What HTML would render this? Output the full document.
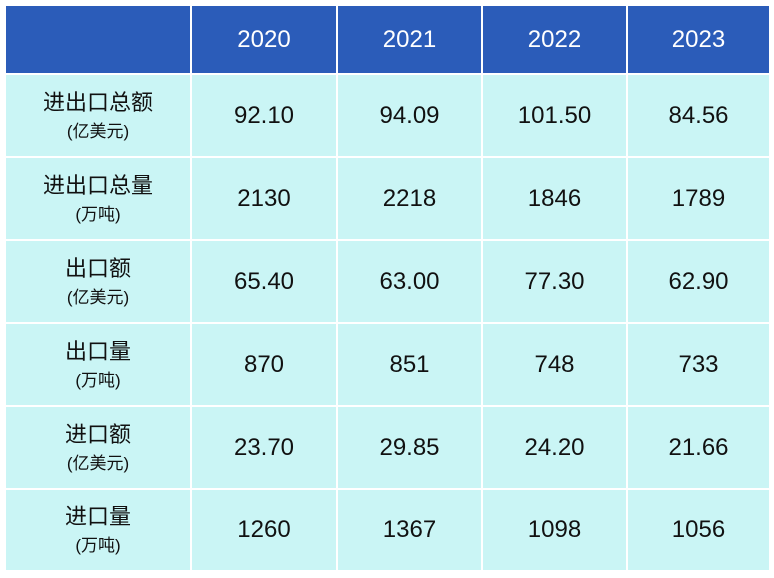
<!DOCTYPE html>
<html><head><meta charset="utf-8"><style>
body{margin:0;width:774px;height:578px;background:#fff;position:relative;overflow:hidden;font-family:"Liberation Sans","Noto Sans CJK SC",sans-serif}
.c{position:absolute;display:flex;flex-direction:column;align-items:center;justify-content:center;box-sizing:border-box;color:#111}
.h{background:#2b5cb9;color:#fff;font-size:24px}
.b{background:#caf5f5;font-size:24px}
.l1{font-size:22px;line-height:32px}
.l2{font-size:17px;line-height:26px}
</style></head><body>
<script>
const years=["2020","2021","2022","2023"];
const labels=[["进出口总额","(亿美元)"],["进出口总量","(万吨)"],["出口额","(亿美元)"],["出口量","(万吨)"],["进口额","(亿美元)"],["进口量","(万吨)"]];
const values=[["92.10","94.09","101.50","84.56"],["2130","2218","1846","1789"],["65.40","63.00","77.30","62.90"],["870","851","748","733"],["23.70","29.85","24.20","21.66"],["1260","1367","1098","1056"]];
const colX=[6,192,338,483,628,771];
const rowY=[6,75,158,241,324,407,490,572];
function cell(ci,ri,cls,html,name){
  const d=document.createElement('div');
  d.className='c '+cls;
  d.style.left=colX[ci]+'px';d.style.top=rowY[ri]+'px';
  d.style.width=(colX[ci+1]-colX[ci]-2)+'px';d.style.height=(rowY[ri+1]-rowY[ri]-2)+'px';
  d.innerHTML=html;
  
  
  document.body.appendChild(d);
}
cell(0,0,'h','','header-corner');
years.forEach((y,i)=>cell(i+1,0,'h',y,'header-'+y));
labels.forEach((l,r)=>{
  cell(0,r+1,'b','<span class="l1">'+l[0]+'</span><span class="l2">'+l[1]+'</span>','row-label-'+(r+1));
  values[r].forEach((v,i)=>cell(i+1,r+1,'b',v,'cell-r'+(r+1)+'-'+years[i]));
});
</script>
</body></html>
